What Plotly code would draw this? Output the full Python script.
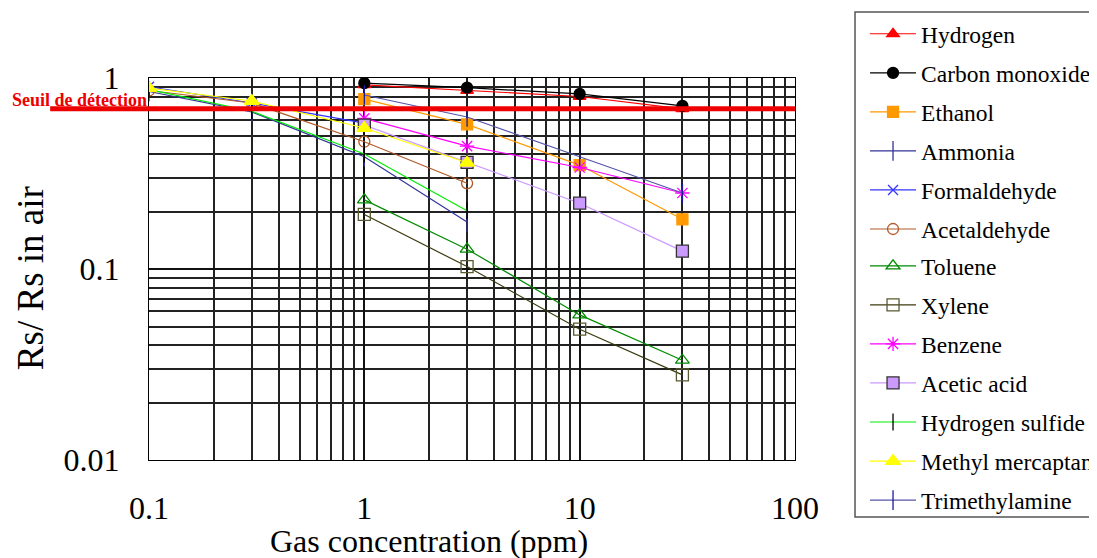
import math
import plotly.graph_objects as go

# ---- data ----
conc_full = [0.1, 0.3, 1, 3]
conc_high = [1, 3, 10, 30]
conc_formaldehyde = [0.1, 0.3, 1]

hydrogen = [0.92, 0.86, 0.80, 0.69]
carbon_monoxide = [0.94, 0.89, 0.825, 0.715]
ethanol = [0.775, 0.572, 0.35, 0.182]
ammonia = [0.85, 0.665, 0.387, 0.176]
formaldehyde = [0.90, 0.74, 0.58]
acetaldehyde = [0.86, 0.74, 0.464, 0.281]
toluene = [0.23, 0.127, 0.0575, 0.0333]
xylene = [0.193, 0.103, 0.0484, 0.0279]
benzene = [0.615, 0.44, 0.34, 0.25]
acetic_acid = [0.567, 0.362, 0.221, 0.124]
hydrogen_sulfide = [0.87, 0.67, 0.40, 0.202]
methyl_mercaptan = [0.886, 0.758, 0.547, 0.36]
trimethylamine = [0.815, 0.625, 0.387, 0.25]

threshold = 0.69
threshold_label = "Seuil de détection"

x_tickvals = [0.1, 1, 10, 100]
x_ticktext = ["0.1", "1", "10", "100"]
y_tickvals = [0.01, 0.1, 1]
y_ticktext = ["0.01", "0.1", "1"]

# name, x, y, line colour, symbol, marker colour, size, marker line colour, legend
series = [
    ("Hydrogen", conc_high, hydrogen, "#ff0000", "triangle-up", "#ff0000", 11, "#ff0000", "legend"),
    ("Carbon monoxide", conc_high, carbon_monoxide, "#000000", "circle", "#000000", 11, "#000000", "legend"),
    ("Ethanol", conc_high, ethanol, "#ff9900", "square", "#ff9900", 11, "#ff9900", "legend"),
    ("Ammonia", conc_full, ammonia, "#333399", "line-ns", "#333399", 14, "#333399", "legend"),
    ("Formaldehyde", conc_formaldehyde, formaldehyde, "#3333ff", "x-thin", "#3333ff", 10, "#3333ff", "legend"),
    ("Acetaldehyde", conc_full, acetaldehyde, "#b05a2a", "circle-open", "#b05a2a", 11, "#b05a2a", "legend"),
    ("Toluene", conc_high, toluene, "#008a00", "triangle-up-open", "#008a00", 12, "#008a00", "legend2"),
    ("Xylene", conc_high, xylene, "#3b3b10", "square-open", "#5a5a30", 12, "#5a5a30", "legend2"),
    ("Benzene", conc_high, benzene, "#ff00ff", "asterisk", "#ff00ff", 12, "#ff00ff", "legend2"),
    ("Acetic acid", conc_high, acetic_acid, "#cc99ff", "square", "#cc99ff", 12, "#333333", "legend2"),
    ("Hydrogen sulfide", conc_full, hydrogen_sulfide, "#00ee00", "line-ns", "#000000", 12, "#000000", "legend2"),
    ("Methyl mercaptan", conc_full, methyl_mercaptan, "#ffff00", "triangle-up", "#ffff00", 13, "#ffff00", "legend2"),
    ("Trimethylamine", conc_high, trimethylamine, "#5555a8", "line-ns", "#1a1aa0", 14, "#1a1aa0", "legend2"),
]

fig = go.Figure()
for name, xs, ys, lc, sym, mc, ms, mlc, lg in series:
    fig.add_trace(go.Scatter(
        x=xs, y=ys, name=name, mode="lines+markers", legendgroup=name, legend=lg,
        line=dict(color=lc, width=1.2),
        marker=dict(symbol=sym, color=mc, size=ms, line=dict(color=mlc, width=1.3)),
    ))

FONT = "Liberation Serif, serif"

axis_common = dict(
    type="log", showgrid=True, gridcolor="#111111", gridwidth=1.8,
    showline=True, linecolor="#000000", linewidth=1.2, mirror=True,
    ticks="", zeroline=False,
    tickfont=dict(family=FONT, size=32, color="#000000"),
    minor=dict(dtick="D1", showgrid=True, gridcolor="#222222", gridwidth=1.8),
)

legend_common = dict(
    xanchor="left", yanchor="top", x=1.1084,
    font=dict(family=FONT, size=23.5, color="#000000"),
    bgcolor="rgba(0,0,0,0)", borderwidth=0,
    tracegroupgap=5.5, itemwidth=46,
)

fig.update_layout(
    width=1089, height=550,
    paper_bgcolor="#ffffff", plot_bgcolor="#ffffff",
    margin=dict(l=141, r=302, t=70, b=98, autoexpand=False),
    font=dict(family=FONT, color="#000000"),
    xaxis=dict(axis_common, range=[-1, 2], tickmode="array", tickvals=x_tickvals, ticktext=x_ticktext,
               ticklabelstandoff=19),
    yaxis=dict(axis_common, range=[-2, 0], tickmode="array", tickvals=y_tickvals, ticktext=y_ticktext,
               ticklabelstandoff=22),
    legend=dict(legend_common, y=1.1728),
    legend2=dict(legend_common, y=0.5654),
    showlegend=True,
)

# axis titles (placed as in the reference)
fig.add_annotation(xref="paper", yref="paper", x=0.433, y=-0.212, xanchor="center", yanchor="middle",
                   text="Gas concentration (ppm)", showarrow=False,
                   font=dict(family=FONT, size=32, color="#000000"))
fig.add_annotation(xref="paper", yref="paper", x=-0.184, y=0.4764, xanchor="center", yanchor="middle",
                   text="Rs/ Rs in air", showarrow=False, textangle=-90,
                   font=dict(family=FONT, size=37, color="#000000"))

# legend frame
fig.add_shape(type="rect", xref="paper", yref="paper",
              x0=1.0929, x1=1.6, y0=-0.149, y1=1.1728,
              line=dict(color="#555555", width=1.5), fillcolor="rgba(0,0,0,0)", layer="below")

# detection threshold line
fig.add_shape(type="line", xref="paper", yref="y",
              x0=-0.153, x1=1.0, y0=threshold, y1=threshold,
              line=dict(color="#ee0000", width=5))
fig.add_annotation(xref="paper", yref="y", x=0.0, y=math.log10(threshold), xanchor="right", yanchor="bottom",
                   text=threshold_label, showarrow=False, yshift=-3,
                   font=dict(family=FONT, size=18, color="#ee0000", weight="bold"))

fig.write_html("out.html")
